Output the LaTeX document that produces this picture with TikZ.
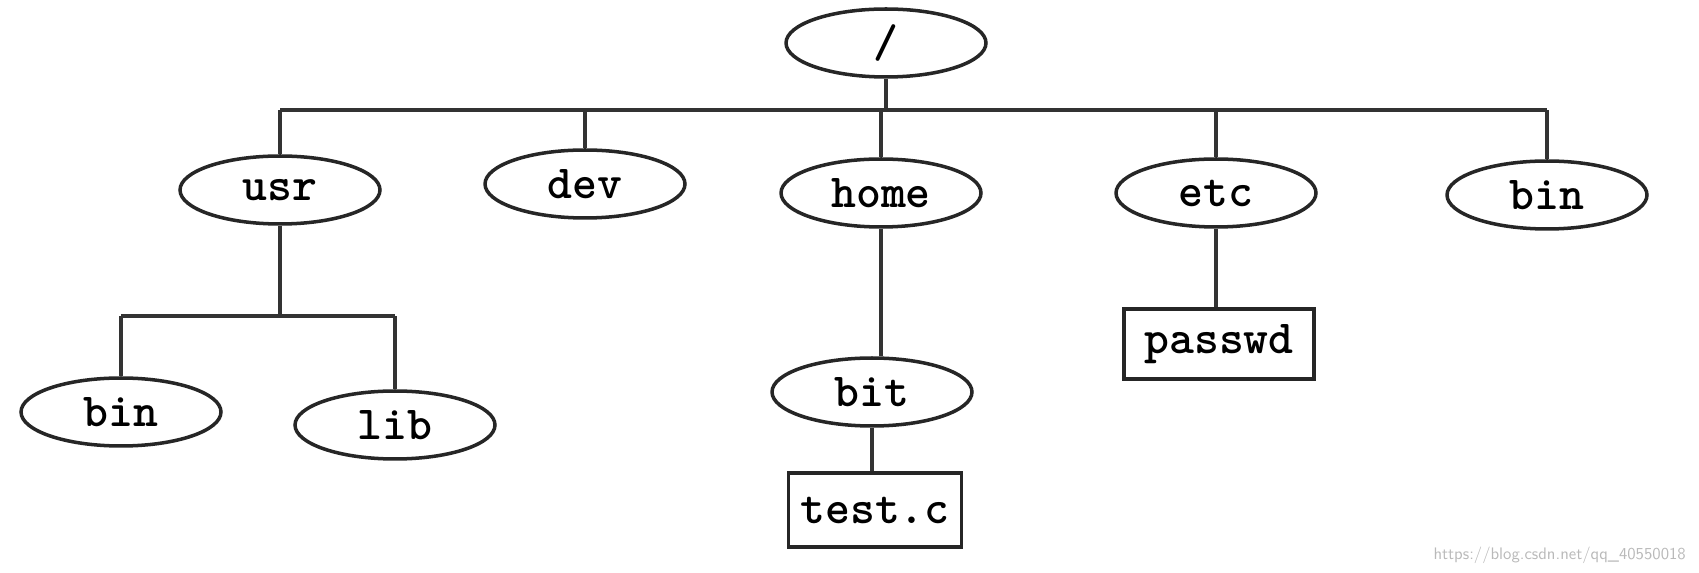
\documentclass[tikz,border=0pt]{standalone}
\usetikzlibrary{shapes.geometric}

\begin{document}
\begin{tikzpicture}[x=.02cm,y=-.02cm,
	dir/.style={ellipse,draw=black!85,line width=2pt,minimum width=4cm,minimum height=1.36cm,inner sep=0pt,font=\ttfamily\bfseries\fontsize{27}{30}\selectfont},
	file/.style={rectangle,draw=black!85,line width=2pt,inner sep=0pt,font=\ttfamily\bfseries\fontsize{27}{30}\selectfont},
	link/.style={black!80,line width=2pt}]
			\useasboundingbox (0,0) rectangle (1699,573);
			\node[dir] (root) at (886,43) {/};
			\coordinate (bus) at (0,110); \coordinate (ubus) at (0,316);
			
			\node[dir] (usr) at (280,190) {usr};
			\node[dir] (dev) at (585,184) {dev};
			\node[dir] (home) at (881,193) {home};
			\node[dir] (etc) at (1216,193) {etc};
			\node[dir] (bin) at (1547,195) {bin};
			
			\node[dir] (ubin) at (121,412) {bin};
			\node[dir] (lib) at (395,425) {lib};
			\node[dir] (bit) at (872,392) {bit};
			\node[file,minimum width=3.46cm,minimum height=1.48cm] (testc) at (875,510) {test.c};
			\node[file,minimum width=3.8cm,minimum height=1.4cm] (passwd) at (1219,344) {passwd};
			
			\draw[link] (root) -- (root |- bus);
			\draw[link] (usr |- bus) -- (bin |- bus);
			\foreach \n in {usr,dev,home,etc,bin} \draw[link] (\n) -- (\n |- bus);
			
			\draw[link] (usr) -- (usr |- ubus);
			\draw[link] (ubin |- ubus) -- (lib |- ubus);
			\draw[link] (ubin) -- (ubin |- ubus); \draw[link] (lib) -- (lib |- ubus);
			
			\draw[link] (home) -- (home |- bit.north); \draw[link] (bit) -- (bit |- testc.north);
			\draw[link] (etc) -- (etc |- passwd.north);
			
			\node[anchor=east,text=gray!55,font=\sffamily\fontsize{9.5}{11}\selectfont] (url) at (1692,555) {https://blog.csdn.net/qq\_40550018};
\end{tikzpicture}
\end{document}
